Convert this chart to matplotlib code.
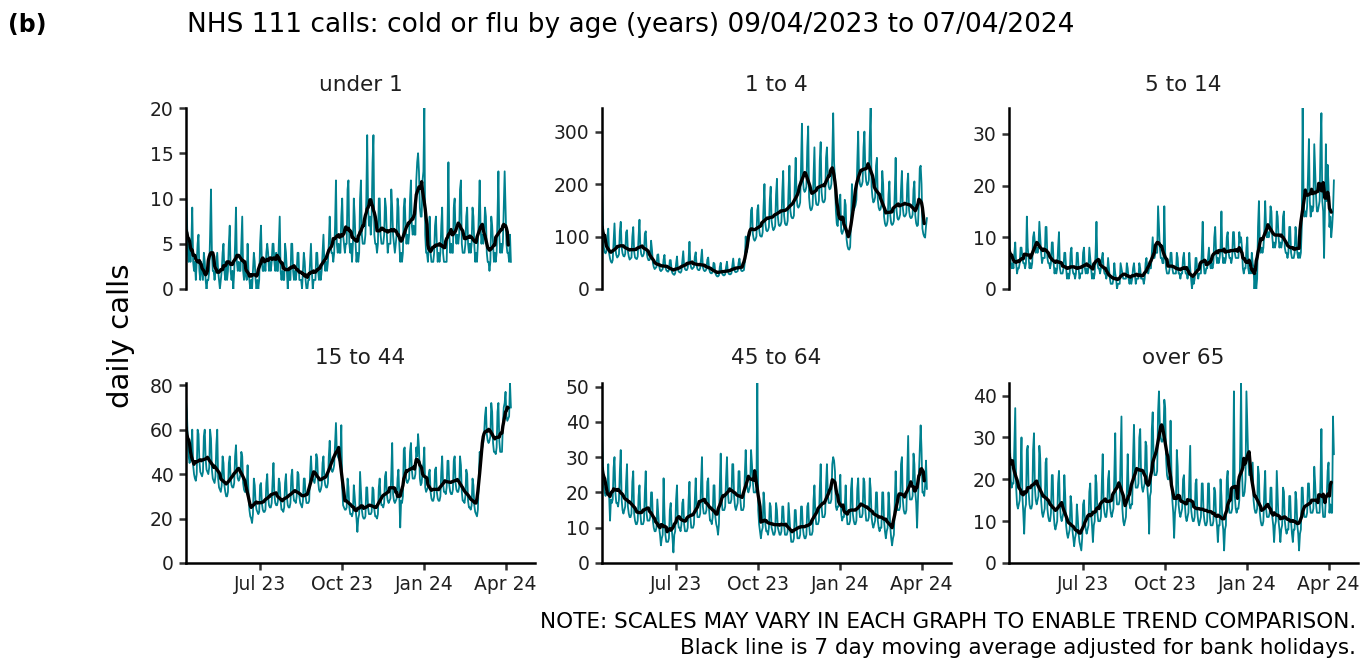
import matplotlib
matplotlib.use("Agg")
import matplotlib.pyplot as plt
import numpy as np
import pandas as pd

# ---------------- data ----------------
start_date = "2023-04-09"
panel_titles = ["under 1", "1 to 4", "5 to 14", "15 to 44", "45 to 64", "over 65"]
y_ticks = [[0, 5, 10, 15, 20], [0, 100, 200, 300], [0, 10, 20, 30],
           [0, 20, 40, 60, 80], [0, 10, 20, 30, 40, 50], [0, 10, 20, 30, 40]]
x_tick_dates = ["2023-07-01", "2023-10-01", "2024-01-01", "2024-04-01"]
x_tick_labels = ["Jul 23", "Oct 23", "Jan 24", "Apr 24"]

# daily calls, one week (Sun..Sat) per line
calls_under_1 = [
    11, 8, 4, 3, 5, 3, 5,
    9, 3, 2, 3, 1, 3, 5,
    6, 2, 1, 3, 2, 1, 4,
    3, 1, 0, 1, 1, 2, 6,
    11, 4, 2, 2, 1, 2, 3,
    4, 2, 1, 0, 1, 2, 4,
    5, 2, 1, 3, 1, 2, 5,
    7, 2, 1, 2, 0, 2, 5,
    9, 3, 2, 3, 2, 2, 5,
    8, 2, 1, 2, 2, 1, 5,
    2, 1, 0, 1, 0, 2, 4,
    3, 1, 0, 1, 0, 1, 5,
    7, 3, 2, 2, 3, 2, 4,
    5, 4, 2, 3, 2, 3, 5,
    5, 3, 2, 4, 2, 2, 5,
    8, 2, 1, 2, 1, 1, 5,
    4, 2, 0, 2, 1, 1, 5,
    5, 2, 1, 2, 1, 2, 4,
    4, 1, 1, 1, 0, 2, 4,
    3, 1, 0, 0, 1, 1, 3,
    5, 2, 0, 1, 1, 1, 4,
    4, 2, 1, 2, 1, 2, 4,
    6, 3, 2, 3, 2, 3, 5,
    8, 5, 4, 4, 3, 4, 7,
    12, 5, 4, 5, 4, 4, 8,
    10, 6, 5, 4, 5, 5, 11,
    12, 5, 4, 5, 3, 5, 10,
    8, 5, 3, 4, 3, 4, 10,
    12, 6, 5, 5, 5, 6, 10,
    17, 9, 7, 8, 6, 8, 14,
    17, 6, 5, 5, 4, 5, 10,
    10, 6, 5, 5, 5, 6, 10,
    9, 6, 4, 5, 5, 5, 11,
    9, 6, 5, 4, 5, 6, 10,
    9, 5, 3, 4, 3, 4, 9,
    10, 7, 5, 6, 5, 6, 10,
    12, 7, 6, 7, 6, 6, 12,
    14, 15, 13, 9, 8, 8, 12,
    13, 20, 6, 4, 4, 3, 5,
    8, 4, 3, 3, 3, 4, 7,
    8, 5, 3, 4, 3, 4, 7,
    9, 4, 3, 3, 3, 3, 7,
    14, 6, 4, 5, 4, 4, 9,
    10, 6, 5, 6, 5, 6, 11,
    12, 5, 4, 4, 4, 5, 8,
    9, 5, 4, 5, 4, 5, 9,
    8, 5, 3, 4, 3, 5, 8,
    12, 7, 5, 6, 5, 6, 9,
    8, 4, 3, 3, 2, 3, 8,
    7, 5, 3, 4, 3, 4, 8,
    13, 6, 4, 5, 4, 5, 9,
    13, 9, 5, 4, 4, 3, 6,
    3,
]

calls_1_to_4 = [
    195, 130, 80, 70, 68, 72, 100,
    115, 68, 58, 52, 50, 55, 92,
    125, 78, 65, 60, 62, 66, 110,
    128, 80, 68, 63, 62, 67, 108,
    112, 72, 62, 56, 58, 60, 100,
    118, 72, 60, 58, 57, 62, 100,
    132, 78, 66, 62, 63, 68, 105,
    110, 70, 60, 55, 55, 58, 92,
    75, 50, 42, 38, 40, 42, 65,
    66, 44, 36, 34, 36, 38, 56,
    65, 42, 36, 34, 33, 36, 55,
    55, 35, 30, 28, 27, 30, 48,
    62, 38, 33, 32, 31, 34, 52,
    72, 45, 38, 36, 36, 40, 55,
    90, 48, 40, 38, 40, 42, 62,
    70, 45, 38, 36, 36, 40, 58,
    75, 42, 36, 34, 35, 38, 56,
    60, 38, 32, 30, 30, 33, 50,
    48, 30, 26, 24, 24, 26, 42,
    50, 32, 28, 26, 26, 28, 42,
    52, 34, 29, 28, 28, 30, 44,
    58, 40, 33, 32, 33, 34, 50,
    58, 42, 35, 34, 35, 36, 52,
    100, 70, 80, 92, 100, 105, 150,
    155, 105, 95, 92, 95, 100, 150,
    160, 115, 102, 100, 100, 108, 158,
    200, 125, 112, 110, 112, 118, 170,
    195, 130, 118, 112, 115, 120, 180,
    210, 138, 122, 120, 122, 128, 185,
    225, 140, 125, 122, 122, 130, 190,
    235, 150, 138, 135, 135, 140, 200,
    250, 175, 158, 155, 158, 165, 235,
    315, 210, 190, 185, 188, 195, 270,
    310, 175, 155, 150, 152, 160, 215,
    270, 180, 162, 160, 160, 168, 245,
    280, 185, 168, 165, 166, 172, 250,
    270, 215, 195, 190, 192, 200, 250,
    335, 240, 210, 150, 125, 120, 140,
    170, 180, 110, 105, 110, 115, 170,
    160, 95, 82, 76, 75, 80, 130,
    200, 150, 150, 155, 160, 170, 240,
    300, 215, 200, 195, 198, 205, 270,
    300, 225, 205, 198, 200, 208, 290,
    345, 195, 175, 165, 168, 175, 235,
    250, 170, 155, 150, 152, 160, 225,
    200, 138, 125, 120, 122, 130, 180,
    205, 140, 125, 122, 124, 130, 185,
    250, 150, 135, 132, 135, 142, 190,
    225, 155, 140, 138, 140, 145, 200,
    220, 150, 138, 135, 136, 142, 190,
    205, 140, 125, 120, 122, 165, 230,
    235, 200, 115, 105, 100, 98, 120,
    135,
]

calls_5_to_14 = [
    13, 8, 5, 4, 5, 4, 7,
    9, 5, 3, 4, 4, 5, 8,
    8, 6, 5, 5, 4, 5, 14,
    8, 6, 4, 5, 4, 5, 10,
    11, 9, 7, 8, 7, 8, 13,
    10, 7, 5, 6, 6, 6, 12,
    12, 6, 5, 5, 4, 5, 9,
    9, 5, 3, 4, 3, 4, 8,
    11, 4, 3, 3, 3, 4, 7,
    7, 4, 2, 3, 2, 3, 7,
    8, 4, 3, 3, 2, 3, 7,
    7, 4, 2, 3, 3, 3, 7,
    8, 4, 3, 4, 3, 4, 8,
    6, 4, 2, 3, 2, 3, 7,
    13, 5, 4, 4, 3, 4, 6,
    7, 4, 3, 3, 2, 3, 6,
    4, 2, 1, 1, 1, 2, 5,
    3, 2, 0, 1, 1, 1, 5,
    4, 3, 2, 2, 2, 2, 5,
    4, 2, 1, 2, 1, 2, 4,
    5, 3, 1, 2, 2, 2, 5,
    4, 2, 2, 2, 1, 2, 5,
    6, 4, 3, 4, 4, 4, 7,
    10, 6, 6, 7, 7, 7, 16,
    12, 8, 6, 6, 5, 5, 16,
    7, 4, 3, 3, 3, 4, 7,
    7, 4, 3, 3, 3, 3, 7,
    6, 3, 3, 2, 3, 3, 6,
    7, 4, 3, 3, 2, 3, 7,
    4, 2, 0, 2, 1, 2, 6,
    6, 3, 2, 3, 3, 3, 7,
    13, 5, 3, 3, 4, 4, 6,
    8, 5, 4, 5, 4, 5, 10,
    12, 7, 5, 6, 5, 6, 8,
    15, 7, 5, 6, 5, 6, 10,
    11, 7, 6, 6, 5, 6, 11,
    11, 7, 6, 6, 6, 6, 11,
    9, 10, 8, 4, 3, 4, 4,
    8, 10, 4, 3, 4, 3, 7,
    5, 4, 0, 3, 0, 2, 12,
    17, 9, 7, 8, 7, 8, 11,
    17, 12, 10, 11, 10, 11, 16,
    15, 10, 8, 9, 8, 9, 15,
    14, 10, 8, 9, 8, 9, 14,
    15, 8, 7, 7, 6, 7, 12,
    12, 7, 6, 6, 6, 7, 12,
    10, 7, 6, 7, 6, 7, 12,
    35, 18, 14, 15, 14, 16, 22,
    29, 17, 14, 16, 15, 16, 28,
    23, 18, 15, 15, 16, 17, 28,
    34, 17, 15, 6, 16, 28, 17,
    24, 20, 12, 14, 10, 12, 15,
    21,
]

calls_15_to_44 = [
    73, 68, 55, 48, 45, 47, 52,
    60, 44, 40, 38, 37, 40, 60,
    58, 46, 41, 40, 39, 41, 57,
    60, 47, 42, 41, 40, 43, 60,
    56, 42, 38, 37, 36, 39, 53,
    60, 38, 34, 33, 32, 35, 48,
    45, 35, 32, 30, 30, 32, 45,
    48, 38, 35, 34, 34, 36, 48,
    53, 42, 38, 37, 38, 40, 50,
    48, 36, 33, 32, 32, 34, 44,
    32, 24, 21, 20, 18, 22, 38,
    35, 27, 24, 23, 22, 23, 35,
    36, 27, 24, 23, 23, 24, 36,
    40, 30, 26, 25, 25, 27, 37,
    45, 31, 27, 26, 26, 28, 38,
    36, 28, 24, 24, 23, 25, 36,
    40, 30, 26, 25, 25, 27, 39,
    42, 32, 28, 28, 27, 30, 41,
    40, 30, 27, 26, 25, 28, 38,
    38, 30, 27, 27, 27, 28, 40,
    48, 40, 38, 37, 36, 39, 49,
    47, 37, 33, 32, 33, 35, 45,
    48, 38, 35, 34, 34, 36, 48,
    55, 44, 42, 41, 42, 44, 54,
    63, 50, 48, 47, 46, 48, 62,
    34, 26, 25, 24, 24, 25, 38,
    34, 25, 22, 22, 21, 23, 35,
    30, 24, 20, 14, 20, 22, 41,
    32, 24, 21, 20, 20, 21, 34,
    34, 25, 22, 22, 22, 23, 34,
    33, 24, 21, 21, 20, 22, 34,
    38, 29, 26, 26, 25, 27, 39,
    41, 31, 28, 27, 28, 29, 40,
    54, 31, 28, 27, 28, 29, 38,
    42, 30, 16, 28, 27, 30, 51,
    52, 40, 37, 36, 37, 38, 50,
    54, 42, 38, 38, 38, 40, 52,
    48, 58, 52, 38, 35, 36, 41,
    45, 52, 34, 32, 33, 34, 40,
    42, 32, 29, 28, 28, 30, 42,
    43, 32, 29, 28, 28, 30, 41,
    48, 36, 32, 32, 31, 34, 46,
    46, 35, 32, 31, 31, 33, 46,
    48, 36, 33, 32, 32, 34, 48,
    44, 32, 28, 28, 27, 30, 42,
    40, 28, 25, 25, 24, 26, 38,
    35, 26, 23, 22, 21, 24, 38,
    50, 48, 50, 52, 54, 58, 66,
    70, 58, 55, 54, 55, 57, 72,
    68, 54, 50, 50, 49, 52, 68,
    72, 55, 50, 50, 50, 62, 70,
    72, 77, 66, 64, 65, 66, 81,
    70,
]

calls_45_to_64 = [
    37, 29, 22, 20, 19, 20, 20,
    28, 19, 12, 18, 17, 18, 27,
    30, 20, 17, 17, 16, 18, 26,
    32, 18, 15, 14, 15, 16, 23,
    28, 16, 14, 13, 13, 14, 23,
    26, 14, 12, 11, 11, 12, 19,
    22, 14, 11, 11, 11, 12, 20,
    26, 14, 12, 12, 12, 13, 20,
    20, 12, 10, 9, 9, 10, 18,
    14, 10, 8, 5, 7, 8, 24,
    14, 8, 6, 6, 6, 7, 15,
    17, 10, 7, 3, 8, 9, 18,
    22, 12, 10, 10, 9, 11, 17,
    18, 11, 9, 9, 9, 10, 18,
    23, 13, 10, 10, 10, 11, 18,
    24, 16, 13, 13, 13, 14, 23,
    30, 16, 14, 14, 14, 15, 23,
    24, 15, 12, 12, 11, 13, 22,
    22, 13, 11, 10, 8, 11, 22,
    31, 18, 15, 15, 15, 16, 24,
    30, 20, 17, 17, 17, 18, 28,
    28, 19, 16, 15, 16, 17, 26,
    26, 18, 15, 15, 15, 16, 25,
    32, 24, 21, 20, 21, 22, 32,
    28, 23, 20, 20, 20, 21, 51,
    15, 11, 9, 7, 9, 10, 20,
    17, 11, 9, 9, 8, 10, 17,
    16, 10, 9, 8, 8, 9, 17,
    15, 10, 9, 8, 8, 9, 16,
    16, 11, 8, 8, 8, 9, 17,
    13, 9, 6, 6, 6, 7, 15,
    15, 10, 7, 7, 7, 8, 16,
    16, 10, 8, 7, 7, 8, 16,
    17, 11, 8, 8, 8, 9, 18,
    22, 14, 11, 11, 11, 12, 21,
    28, 16, 13, 13, 13, 14, 22,
    28, 20, 17, 17, 17, 18, 28,
    30, 29, 26, 16, 15, 16, 16,
    20, 25, 14, 12, 13, 13, 16,
    22, 14, 11, 11, 11, 12, 21,
    24, 14, 12, 11, 11, 12, 21,
    24, 16, 13, 13, 13, 14, 24,
    23, 15, 12, 12, 12, 13, 24,
    21, 13, 11, 10, 11, 12, 20,
    20, 12, 10, 9, 10, 10, 20,
    20, 12, 9, 7, 9, 10, 20,
    16, 10, 7, 5, 7, 8, 17,
    26, 18, 15, 15, 15, 16, 28,
    30, 18, 15, 14, 14, 15, 25,
    36, 21, 18, 18, 18, 19, 31,
    28, 20, 17, 10, 18, 25, 32,
    39, 32, 20, 20, 19, 22, 29,
    21,
]

calls_over_65 = [
    36, 30, 20, 18, 19, 19, 28,
    37, 18, 14, 13, 14, 15, 22,
    30, 16, 12, 7, 13, 14, 27,
    28, 17, 14, 13, 13, 14, 27,
    31, 18, 15, 14, 15, 16, 28,
    25, 15, 12, 11, 12, 13, 24,
    25, 13, 11, 10, 10, 12, 21,
    21, 12, 9, 8, 9, 10, 19,
    22, 14, 11, 10, 11, 12, 21,
    16, 9, 7, 6, 7, 8, 16,
    14, 8, 6, 4, 6, 7, 14,
    11, 7, 5, 4, 3, 6, 14,
    15, 10, 8, 7, 8, 9, 17,
    19, 12, 9, 5, 9, 10, 21,
    19, 12, 10, 10, 10, 11, 19,
    26, 14, 12, 11, 11, 13, 20,
    22, 14, 12, 11, 12, 13, 21,
    31, 17, 14, 14, 14, 15, 25,
    35, 13, 10, 9, 10, 11, 17,
    26, 17, 14, 13, 14, 14, 25,
    33, 22, 18, 18, 18, 19, 30,
    32, 21, 18, 17, 18, 19, 29,
    28, 18, 15, 7, 16, 17, 32,
    36, 25, 21, 21, 21, 22, 36,
    41, 33, 30, 29, 29, 30, 39,
    37, 25, 21, 20, 20, 21, 34,
    22, 15, 12, 6, 12, 14, 27,
    23, 14, 12, 11, 12, 13, 20,
    21, 14, 11, 10, 11, 12, 20,
    28, 13, 11, 10, 10, 11, 19,
    20, 12, 10, 9, 10, 11, 19,
    19, 12, 10, 9, 9, 10, 19,
    19, 11, 9, 9, 9, 10, 18,
    17, 11, 9, 5, 9, 9, 20,
    16, 10, 8, 3, 8, 9, 20,
    22, 14, 12, 12, 12, 13, 20,
    41, 16, 13, 12, 13, 13, 15,
    26, 43, 22, 16, 16, 17, 20,
    41, 33, 25, 21, 21, 22, 23,
    24, 15, 13, 12, 12, 13, 23,
    21, 12, 10, 9, 9, 10, 17,
    22, 13, 11, 11, 11, 12, 18,
    18, 11, 9, 5, 9, 10, 22,
    16, 10, 8, 5, 8, 9, 18,
    17, 10, 8, 7, 8, 8, 16,
    16, 10, 7, 5, 8, 8, 17,
    15, 9, 7, 3, 7, 8, 18,
    18, 13, 11, 11, 11, 12, 19,
    19, 14, 12, 12, 12, 13, 23,
    19, 14, 12, 12, 12, 12, 20,
    32, 14, 11, 11, 11, 16, 16,
    22, 24, 12, 14, 12, 12, 35,
    26,
]

series = [calls_under_1, calls_1_to_4, calls_5_to_14,
          calls_15_to_44, calls_45_to_64, calls_over_65]

# ---------------- figure ----------------
plt.rcParams["font.family"] = ["DejaVu Sans"]
W, H = 1362, 662
fig = plt.figure(figsize=(W / 100, H / 100), dpi=100)

TEAL = "#00818F"
TXT = "#1f1f1f"
col_lefts = [186, 602, 1009]
col_w = 349
row_tops = [108, 383]
row_h = [181, 180]
strip_y = [85, 358]

x_left = pd.Timestamp("2023-04-09")
x_right = pd.Timestamp("2024-05-04")

for i, (title, vals) in enumerate(zip(panel_titles, series)):
    r, c = divmod(i, 3)
    left, top, h = col_lefts[c], row_tops[r], row_h[r]
    ax = fig.add_axes([left / W, 1 - (top + h) / H, col_w / W, h / H])
    dates = pd.date_range(start_date, periods=len(vals), freq="D")
    s = pd.Series(vals, index=dates, dtype=float)
    ma = s.rolling(7, center=True, min_periods=4).mean()
    ma.iloc[-3:] = np.nan
    ax.plot(dates, s.values, color=TEAL, lw=1.3, solid_joinstyle="round")
    ax.plot(dates, ma.values, color="black", lw=2.4, solid_joinstyle="round",
            solid_capstyle="round")
    ax.set_xlim(x_left, x_right)
    ax.set_ylim(0, max(vals))
    ax.set_yticks(y_ticks[i])
    ax.set_facecolor("none")
    for sp in ["top", "right"]:
        ax.spines[sp].set_visible(False)
    ax.spines["left"].set_linewidth(1.8)
    ax.spines["left"].set_color("black")
    ax.tick_params(axis="y", length=5, width=1.8, pad=4, labelsize=13.5,
                   labelcolor=TXT, color="#333333")
    if r == 0:
        ax.spines["bottom"].set_visible(False)
        ax.tick_params(axis="x", bottom=False, labelbottom=False)
    else:
        ax.spines["bottom"].set_linewidth(1.8)
        ax.spines["bottom"].set_color("black")
        ax.set_xticks([pd.Timestamp(d) for d in x_tick_dates])
        ax.set_xticklabels(x_tick_labels)
        ax.tick_params(axis="x", length=5, width=1.8, pad=4, labelsize=13.5,
                       labelcolor=TXT, color="#333333")
    fig.text((left + col_w / 2) / W, 1 - strip_y[r] / H, title,
             ha="center", va="center", fontsize=15.5, color=TXT)

fig.text(8 / W, 1 - 25 / H, "(b)", ha="left", va="center",
         fontsize=17, fontweight="bold", color="black")
fig.text(187 / W, 1 - 25 / H,
         "NHS 111 calls: cold or flu by age (years) 09/04/2023 to 07/04/2024",
         ha="left", va="center", fontsize=19, color="black")
fig.text(121 / W, 1 - 336 / H, "daily calls", rotation=90,
         ha="center", va="center", fontsize=21, color="black")
fig.text(1356 / W, 1 - 622 / H,
         "NOTE: SCALES MAY VARY IN EACH GRAPH TO ENABLE TREND COMPARISON.",
         ha="right", va="center", fontsize=15.5, color="black")
fig.text(1356 / W, 1 - 648 / H,
         "Black line is 7 day moving average adjusted for bank holidays.",
         ha="right", va="center", fontsize=15.5, color="black")

fig.savefig("out.png", dpi=100, facecolor="white")
